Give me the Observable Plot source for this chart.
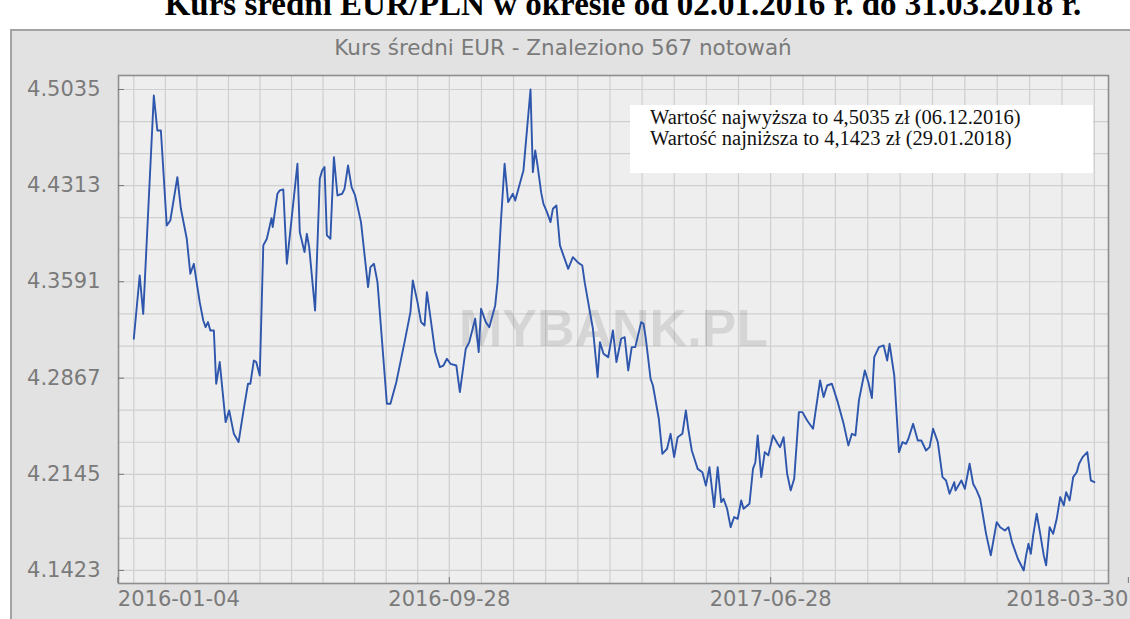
<!DOCTYPE html>
<html><head><meta charset="utf-8">
<script src="https://cdn.jsdelivr.net/npm/d3@7"></script>
<script src="https://cdn.jsdelivr.net/npm/@observablehq/plot@0.6"></script>
<style>
html,body{margin:0;padding:0;background:#fff;}
#wrap{position:relative;width:1130px;height:619px;overflow:hidden;background:#fff;}
#title{position:absolute;left:623px;top:-12px;transform:translateX(-50%);white-space:nowrap;font:bold 33px/33px "Liberation Serif","Times New Roman",serif;color:#000;}
#panel{position:absolute;left:10px;top:29px;width:1120px;height:590px;background:#e2e2e2;border-left:2px solid #a3a3a3;border-top:2px solid #a3a3a3;}
#inner{position:absolute;left:563px;top:36px;transform:translateX(-50%);white-space:nowrap;font:21.5px/24px "DejaVu Sans",sans-serif;color:#7a7a7a;}
#chart{position:absolute;left:0;top:0;}
#note{position:absolute;left:630px;top:105px;width:443px;height:66px;padding:2px 0 0 20px;background:#fff;font:20.5px/21px "Liberation Serif","Times New Roman",serif;color:#111;white-space:nowrap;}
</style>
</head><body>
<div id="wrap">
  <div id="title">Kurs średni EUR/PLN w okresie od 02.01.2016 r. do 31.03.2018 r.</div>
  <div id="panel"></div>
  <div id="inner">Kurs średni EUR - Znaleziono 567 notowań</div>
  <div id="chart"></div>
  <div id="note">Wartość najwyższa to 4,5035 zł (06.12.2016)<br>Wartość najniższa to 4,1423 zł (29.01.2018)</div>
</div>
<script>
const dates = [
"2016-01-04","2016-01-09","2016-01-12","2016-01-21","2016-01-24","2016-01-27","2016-02-01","2016-02-04","2016-02-10","2016-02-13",
"2016-02-18","2016-02-21","2016-02-24","2016-02-29","2016-03-03","2016-03-05","2016-03-07","2016-03-09","2016-03-12","2016-03-14",
"2016-03-17","2016-03-22","2016-03-25","2016-03-29","2016-04-02","2016-04-06","2016-04-10","2016-04-12","2016-04-15","2016-04-17",
"2016-04-20","2016-04-23","2016-04-26","2016-04-30","2016-05-01","2016-05-05","2016-05-07","2016-05-10","2016-05-13","2016-05-22",
"2016-05-24","2016-05-28","2016-05-30","2016-06-01","2016-06-06","2016-06-10","2016-06-12","2016-06-14","2016-06-16","2016-06-19",
"2016-06-22","2016-06-25","2016-06-29","2016-07-01","2016-07-04","2016-07-07","2016-07-10","2016-07-15","2016-07-21","2016-07-23",
"2016-07-26","2016-07-29","2016-08-06","2016-08-09","2016-08-14","2016-08-21","2016-08-26","2016-08-28","2016-09-01","2016-09-04",
"2016-09-07","2016-09-09","2016-09-11","2016-09-16","2016-09-20","2016-09-23","2016-09-26","2016-09-29","2016-10-04","2016-10-07",
"2016-10-12","2016-10-15","2016-10-20","2016-10-23","2016-10-25","2016-10-29","2016-11-01","2016-11-06","2016-11-08","2016-11-11",
"2016-11-14","2016-11-17","2016-11-21","2016-11-23","2016-11-30","2016-12-06","2016-12-08","2016-12-10","2016-12-12","2016-12-15",
"2016-12-17","2016-12-20","2016-12-23","2016-12-25","2016-12-28","2016-12-31","2017-01-04","2017-01-07","2017-01-11","2017-01-15",
"2017-01-19","2017-01-21","2017-01-25","2017-01-28","2017-02-01","2017-02-03","2017-02-06","2017-02-10","2017-02-14","2017-02-17",
"2017-02-21","2017-02-24","2017-02-27","2017-03-02","2017-03-05","2017-03-10","2017-03-12","2017-03-14","2017-03-18","2017-03-20",
"2017-03-25","2017-03-28","2017-04-01","2017-04-04","2017-04-07","2017-04-10","2017-04-14","2017-04-17","2017-04-19","2017-04-22",
"2017-04-27","2017-05-01","2017-05-04","2017-05-07","2017-05-11","2017-05-14","2017-05-17","2017-05-19","2017-05-22","2017-05-25",
"2017-05-28","2017-05-31","2017-06-03","2017-06-05","2017-06-10","2017-06-13","2017-06-15","2017-06-17","2017-06-20","2017-06-23",
"2017-06-26","2017-06-30","2017-07-04","2017-07-06","2017-07-09","2017-07-12","2017-07-15","2017-07-18","2017-07-22","2017-07-25",
"2017-07-29","2017-08-03","2017-08-09","2017-08-12","2017-08-15","2017-08-19","2017-08-24","2017-08-29","2017-09-02","2017-09-05",
"2017-09-08","2017-09-11","2017-09-16","2017-09-19","2017-09-22","2017-09-24","2017-09-28","2017-10-02","2017-10-05","2017-10-07",
"2017-10-11","2017-10-15","2017-10-18","2017-10-21","2017-10-23","2017-10-27","2017-10-31","2017-11-03","2017-11-07","2017-11-10",
"2017-11-13","2017-11-17","2017-11-21","2017-11-24","2017-11-27","2017-12-01","2017-12-02","2017-12-07","2017-12-10","2017-12-14",
"2017-12-17","2017-12-20","2017-12-23","2017-12-28","2018-01-01","2018-01-06","2018-01-09","2018-01-13","2018-01-16","2018-01-19",
"2018-01-24","2018-01-29","2018-01-31","2018-02-02","2018-02-04","2018-02-06","2018-02-09","2018-02-12","2018-02-15","2018-02-17",
"2018-02-20","2018-02-23","2018-02-26","2018-03-01","2018-03-04","2018-03-06","2018-03-09","2018-03-12","2018-03-15","2018-03-17",
"2018-03-20","2018-03-24","2018-03-27","2018-03-30"
];
const rates = [
4.3163,4.3638,4.3350,4.4990,4.4727,4.4727,4.4014,4.4051,4.4377,4.4139,
4.3914,4.3651,4.3726,4.3438,4.3300,4.3250,4.3288,4.3225,4.3225,4.2825,
4.2988,4.2537,4.2625,4.2449,4.2387,4.2612,4.2825,4.2825,4.3000,4.2988,
4.2887,4.3864,4.3914,4.4069,4.4001,4.4252,4.4277,4.4284,4.3726,4.4477,
4.3964,4.3814,4.3951,4.3851,4.3375,4.4364,4.4427,4.4452,4.3939,4.3914,
4.4527,4.4239,4.4252,4.4289,4.4464,4.4302,4.4239,4.4039,4.3551,4.3701,
4.3726,4.3588,4.2675,4.2675,4.2837,4.3138,4.3363,4.3601,4.3438,4.3288,
4.3263,4.3513,4.3388,4.3063,4.2950,4.2962,4.3013,4.2975,4.2962,4.2762,
4.3088,4.3138,4.3313,4.3063,4.3388,4.3288,4.3250,4.3413,4.3588,4.4064,
4.4477,4.4189,4.4252,4.4201,4.4427,4.5035,4.4414,4.4577,4.4464,4.4264,
4.4176,4.4114,4.4039,4.4139,4.4164,4.3864,4.3763,4.3688,4.3776,4.3738,
4.3713,4.3588,4.3388,4.3238,4.2875,4.3138,4.3050,4.3025,4.3225,4.2988,
4.3163,4.3175,4.2925,4.3100,4.3100,4.3288,4.3275,4.3163,4.2862,4.2812,
4.2562,4.2299,4.2337,4.2449,4.2274,4.2424,4.2449,4.2625,4.2487,4.2324,
4.2186,4.2161,4.2061,4.2199,4.1899,4.2199,4.1936,4.1961,4.1886,4.1748,
4.1824,4.1811,4.1949,4.1886,4.1924,4.2186,4.2236,4.2437,4.2124,4.2312,
4.2287,4.2437,4.2374,4.2349,4.2424,4.2149,4.2024,4.2111,4.2612,4.2612,
4.2549,4.2487,4.2850,4.2725,4.2812,4.2825,4.2687,4.2524,4.2362,4.2449,
4.2437,4.2700,4.2925,4.2837,4.2717,4.3025,4.3100,4.3113,4.3000,4.3125,
4.2887,4.2312,4.2387,4.2374,4.2412,4.2524,4.2399,4.2399,4.2324,4.2349,
4.2487,4.2387,4.2124,4.2099,4.1999,4.2086,4.2024,4.2099,4.2036,4.2224,
4.2074,4.2024,4.1961,4.1698,4.1536,4.1786,4.1748,4.1723,4.1748,4.1636,
4.1511,4.1423,4.1536,4.1623,4.1548,4.1686,4.1849,4.1698,4.1536,4.1461,
4.1748,4.1698,4.1811,4.1974,4.1911,4.2011,4.1949,4.2124,4.2161,4.2224,
4.2274,4.2312,4.2099,4.2086
];
const xTickLabels = ["2016-01-04","2016-09-28","2017-06-28","2018-03-30"];
const yTickValues = [4.1423,4.2145,4.2867,4.3591,4.4313,4.5035];
const watermark = "MYBANK.PL";

const parse = d3.utcParse("%Y-%m-%d");
const fmt = d3.utcFormat("%Y-%m-%d");
const data = dates.map((d,i)=>({date: parse(d), rate: rates[i]}));
const xTicks = xTickLabels.map(parse);

// minor grid: 10 divisions between labelled x ticks, 3 between labelled y ticks
const gridX = [];
for (let i=0;i<xTicks.length-1;i++){
  const a=+xTicks[i], b=+xTicks[i+1];
  for (let k=0;k<10;k++) gridX.push(new Date(a+(b-a)*k/10));
}
gridX.push(xTicks[xTicks.length-1]);
const gridY = [];
for (let i=0;i<yTickValues.length-1;i++){
  const a=yTickValues[i], b=yTickValues[i+1];
  for (let k=0;k<3;k++) gridY.push(a+(b-a)*k/3);
}
gridY.push(yTickValues[yTickValues.length-1]);

const axisStyle = {tickFormat: fmt, tickSize: -6, tickPadding: 14, stroke: "#777", fill: "#7a7a7a"};
const chart = Plot.plot({
  width: 1130,
  height: 619,
  marginLeft: 118,
  marginRight: 22,
  marginTop: 75,
  marginBottom: 36,
  style: {background: "transparent", color: "#777", fontFamily: "'DejaVu Sans', sans-serif", fontSize: "21px"},
  x: {type: "utc", domain: [parse("2015-12-22"), parse("2018-04-11")], label: null},
  y: {domain: [4.1325, 4.5140], label: null},
  marks: [
    Plot.frame({fill: "#eeeeee", stroke: null}),
    Plot.ruleX(gridX, {stroke: "#cfcfcf", strokeWidth: 1.2}),
    Plot.ruleY(gridY, {stroke: "#cfcfcf", strokeWidth: 1.2}),
    Plot.text([watermark], {frameAnchor: "middle", text: d => d, fontSize: 52, fontWeight: "bold", fontFamily: "'Liberation Sans', Arial, sans-serif", fill: "#000", fillOpacity: 0.1}),
    Plot.line(data, {x: "date", y: "rate", stroke: "#2d56ac", strokeWidth: 1.9, strokeLinejoin: "round"}),
    Plot.frame({stroke: "#8e8e8e", strokeWidth: 1.6}),
    Plot.axisX({...axisStyle, ticks: xTicks.slice(0, 1), textAnchor: "start", dx: -16}),
    Plot.axisX({...axisStyle, ticks: xTicks.slice(1, -1)}),
    Plot.axisX({...axisStyle, ticks: xTicks.slice(-1), textAnchor: "end", dx: 34}),
    Plot.axisY({ticks: yTickValues, tickFormat: d => d.toFixed(4), tickSize: -6, tickPadding: 24, stroke: "#777", fill: "#7a7a7a"})
  ]
});
document.getElementById("chart").appendChild(chart);
</script>
</body></html>
